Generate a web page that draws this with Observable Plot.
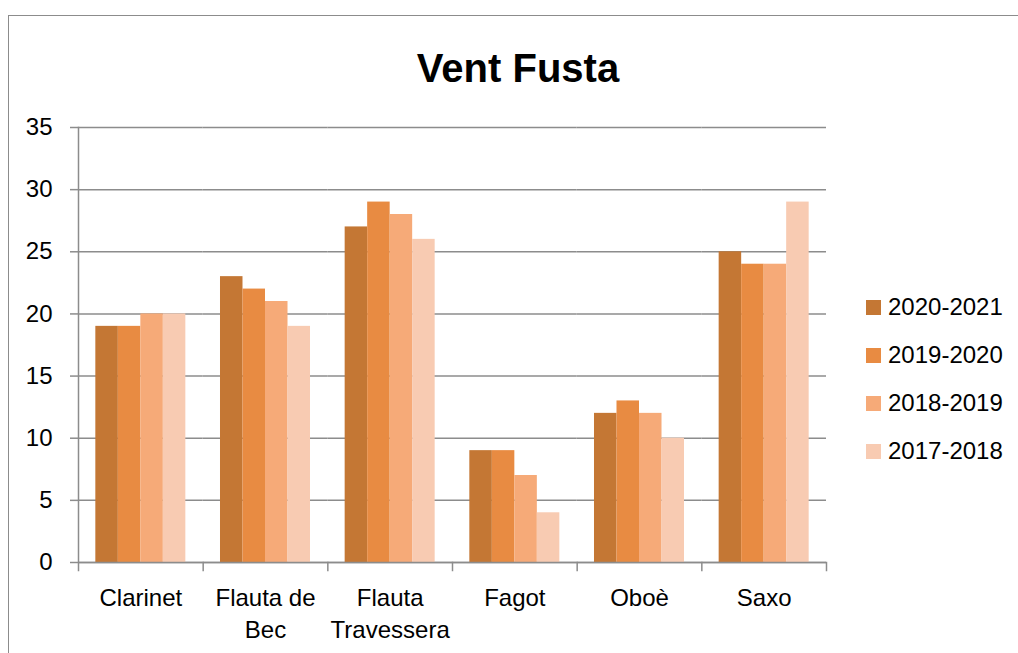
<!DOCTYPE html>
<html>
<head>
<meta charset="utf-8">
<script src="https://cdn.jsdelivr.net/npm/d3@7"></script>
<script src="https://cdn.jsdelivr.net/npm/@observablehq/plot@0.6"></script>
<style>
  html, body { margin: 0; padding: 0; background: #fff; }
  body { width: 1018px; height: 653px; overflow: hidden; font-family: "Liberation Sans", Arial, sans-serif; }
  #wrap { position: relative; width: 1018px; height: 653px; }
  #chart { position: absolute; left: 0; top: 0; }
  #border { position: absolute; left: 8px; top: 15px; width: 1030px; height: 700px;
            border-left: 1.5px solid #8c8c8c; border-top: 1.5px solid #8c8c8c; pointer-events: none; }
  #title { position: absolute; left: 0; width: 1036px; top: 44px; text-align: center;
           font-weight: bold; font-size: 40px; line-height: 48px; color: #000; }
  #legend { position: absolute; left: 866px; top: 292px; }
  .item { display: flex; align-items: center; height: 30px; margin-bottom: 18px; font-size: 24px; color: #000; }
  .sw { width: 15px; height: 15px; margin-right: 7px; }
</style>
</head>
<body>
<div id="wrap">
  <div id="chart"></div>
  <div id="title"></div>
  <div id="legend"></div>
  <div id="border"></div>
</div>
<script>
const title = "Vent Fusta";
const categories = ["Clarinet", "Flauta de Bec", "Flauta Travessera", "Fagot", "Oboè", "Saxo"];
const categoryLabels = ["Clarinet", "Flauta de\nBec", "Flauta\nTravessera", "Fagot", "Oboè", "Saxo"];
const series = ["2020-2021", "2019-2020", "2018-2019", "2017-2018"];
const colors = ["#C47734", "#E88B42", "#F6AA78", "#F8CBB2"];
const v2020_2021 = [19, 23, 27, 9, 12, 25];
const v2019_2020 = [19, 22, 29, 9, 13, 24];
const v2018_2019 = [20, 21, 28, 7, 12, 24];
const v2017_2018 = [20, 19, 26, 4, 10, 29];
const yTicks = [0, 5, 10, 15, 20, 25, 30, 35];

const valuesBySeries = [v2020_2021, v2019_2020, v2018_2019, v2017_2018];
const data = [];
categories.forEach((c, i) => {
  series.forEach((s, j) => data.push({category: c, series: s, value: valuesBySeries[j][i]}));
});
const labelOf = new Map(categories.map((c, i) => [c, categoryLabels[i]]));
const grey = "#8c8c8c";

const plot = Plot.plot({
  width: 1018,
  height: 653,
  marginLeft: 78,
  marginRight: 192,
  marginTop: 127,
  marginBottom: 91,
  style: {background: "transparent", fontFamily: "'Liberation Sans', Arial, sans-serif", fontSize: "24px", color: "#000"},
  fx: {domain: categories, padding: 0, round: false, label: null},
  x: {domain: series, paddingInner: 0, paddingOuter: 0.77, round: false, axis: null},
  y: {domain: [0, 35], label: null},
  color: {domain: series, range: colors},
  marks: [
    Plot.gridY(yTicks, {stroke: grey, strokeOpacity: 1, strokeWidth: 1.5}),
    Plot.barY(data, {fx: "category", x: "series", y: "value", fill: "series"}),
    Plot.ruleY([0], {stroke: grey, strokeWidth: 1.5}),
    Plot.frame({anchor: "right", insetTop: 435, insetBottom: -8, stroke: grey, strokeWidth: 1.5}),
    Plot.frame({anchor: "left", facetAnchor: "left", insetBottom: -8, stroke: grey, strokeWidth: 1.5}),
    Plot.axisY(yTicks, {tickSize: 8, tickPadding: 18, stroke: grey, strokeWidth: 1.5, fill: "#000", fontSize: 24, label: null}),
    Plot.axisFx({anchor: "bottom", tickSize: 0, tickPadding: 21, fontSize: 24, lineHeight: 1.333, fill: "#000", tickFormat: d => labelOf.get(d), label: null})
  ]
});
document.getElementById("chart").appendChild(plot);
document.getElementById("title").textContent = title;

const legend = document.getElementById("legend");
series.forEach((s, i) => {
  const item = document.createElement("div");
  item.className = "item";
  const sw = document.createElement("div");
  sw.className = "sw";
  sw.style.background = colors[i];
  const t = document.createElement("span");
  t.textContent = s;
  item.appendChild(sw);
  item.appendChild(t);
  legend.appendChild(item);
});
</script>
</body>
</html>
